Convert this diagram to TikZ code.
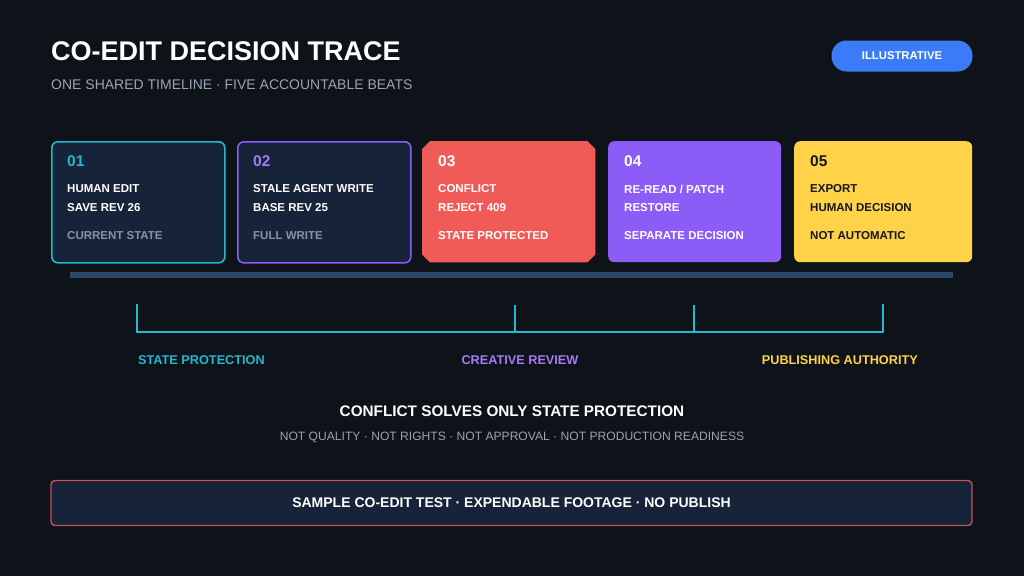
\documentclass[tikz,border=0pt]{standalone}
\usepackage{fontspec}
\setmainfont{Liberation Sans}
\usetikzlibrary{positioning}

\definecolor{bgdark}{HTML}{0E1219}
\definecolor{cardfill}{HTML}{172338}
\definecolor{beatcyan}{HTML}{22B8CF}
\definecolor{beatpurple}{HTML}{8B5CF6}
\definecolor{labelpurple}{HTML}{A77BF3}
\definecolor{beatred}{HTML}{F05B57}
\definecolor{beatyellow}{HTML}{FFD247}
\definecolor{timeline}{HTML}{2B4A68}
\definecolor{subgray}{HTML}{9AA3B5}
\definecolor{dimgray}{HTML}{8A93A6}
\definecolor{pillblue}{HTML}{3B7CF6}
\definecolor{noteborder}{HTML}{C4525A}
\definecolor{inkdark}{HTML}{14161C}

\tikzset{
  card/.style={rectangle, rounded corners=6pt, minimum height=121pt, inner sep=0pt, anchor=north west},
  beatnum/.style={anchor=west, inner sep=0pt, font=\bfseries\fontsize{15.5}{18}\selectfont},
  beatline/.style={anchor=west, inner sep=0pt, font=\bfseries\fontsize{11.5}{13}\selectfont},
  phaselabel/.style={inner sep=0pt, font=\bfseries\fontsize{12.7}{15}\selectfont},
  bracketline/.style={draw=beatcyan, line width=2pt}
}

\begin{document}
\begin{tikzpicture}[x=1pt, y=-1pt]
  \fill [bgdark] (0,0) rectangle (1024,576);
  \useasboundingbox (0,0) rectangle (1024,576);

  % heading
  \node (title) [anchor=west, inner sep=0pt, text=white, font=\bfseries\fontsize{27}{31}\selectfont] at (51,51) {CO-EDIT DECISION TRACE};
  \node (subtitle) [anchor=west, inner sep=0pt, text=subgray, font=\fontsize{14}{17}\selectfont] at (51,85) {ONE SHARED TIMELINE · FIVE ACCOUNTABLE BEATS};
  \node (pill) [rectangle, rounded corners=15pt, fill=pillblue, minimum width=141pt, minimum height=31pt, text=white, font=\bfseries\fontsize{11.3}{13}\selectfont] at (902,56) {ILLUSTRATIVE};

  % beat 01
  \node (card1) [card, draw=beatcyan, line width=1.6pt, fill=cardfill, minimum width=173pt] at (51,141) {};
  \node (num1) [beatnum, text=beatcyan] at (67,161) {01};
  \node (top1) [beatline, text=white] at (67,189) {HUMAN EDIT};
  \node (mid1) [beatline, text=white] at (67,208) {SAVE REV 26};
  \node (low1) [beatline, text=dimgray] at (67,236) {CURRENT STATE};

  % beat 02
  \node (card2) [card, draw=beatpurple, line width=1.6pt, fill=cardfill, minimum width=173pt] at (237,141) {};
  \node (num2) [beatnum, text=labelpurple] at (253,161) {02};
  \node (top2) [beatline, text=white] at (253,189) {STALE AGENT WRITE};
  \node (mid2) [beatline, text=white] at (253,208) {BASE REV 25};
  \node (low2) [beatline, text=dimgray] at (253,236) {FULL WRITE};

  % beat 03, corners cut off
  \node (card3) [rectangle, minimum width=173pt, minimum height=121pt, inner sep=0pt, anchor=north west] at (422,141) {};
  \fill [beatred] ([xshift=8pt]card3.north west) -- ([xshift=-8pt]card3.north east)
    -- ([yshift=-8pt]card3.north east) -- ([yshift=8pt]card3.south east)
    -- ([xshift=-8pt]card3.south east) -- ([xshift=8pt]card3.south west)
    -- ([yshift=8pt]card3.south west) -- ([yshift=-8pt]card3.north west) -- cycle;
  \node (num3) [beatnum, text=white] at (438,161) {03};
  \node (top3) [beatline, text=white] at (438,189) {CONFLICT};
  \node (mid3) [beatline, text=white] at (438,208) {REJECT 409};
  \node (low3) [beatline, text=white] at (438,236) {STATE PROTECTED};

  % beat 04
  \node (card4) [card, fill=beatpurple, minimum width=173pt] at (608,141) {};
  \node (num4) [beatnum, text=white] at (624,161) {04};
  \node (top4) [beatline, text=white] at (624,189) {RE-READ / PATCH};
  \node (mid4) [beatline, text=white] at (624,208) {RESTORE};
  \node (low4) [beatline, text=white] at (624,236) {SEPARATE DECISION};

  % beat 05
  \node (card5) [card, fill=beatyellow, minimum width=178pt] at (794,141) {};
  \node (num5) [beatnum, text=inkdark] at (810,161) {05};
  \node (top5) [beatline, text=inkdark] at (810,189) {EXPORT};
  \node (mid5) [beatline, text=inkdark] at (810,208) {HUMAN DECISION};
  \node (low5) [beatline, text=inkdark] at (810,236) {NOT AUTOMATIC};

  % shared timeline
  \fill [timeline] (70,272) rectangle (953,278);

  % phase bracket
  \coordinate (tickA) at (137,305);
  \coordinate (tickB) at (515,305);
  \coordinate (tickC) at (694,305);
  \coordinate (tickD) at (883,305);
  \draw [bracketline, line cap=rect] (tickA) -- (tickA |- 0,332) -- (tickD |- 0,332) -- (tickD);
  \draw [bracketline] (tickB) -- (tickB |- 0,332);
  \draw [bracketline] (tickC) -- (tickC |- 0,332);

  \node (phase1) [phaselabel, anchor=west, text=beatcyan] at (138,360) {STATE PROTECTION};
  \node (phase2) [phaselabel, text=labelpurple] at (520,360) {CREATIVE REVIEW};
  \node (phase3) [phaselabel, anchor=east, text=beatyellow] at (918,360) {PUBLISHING AUTHORITY};

  % verdict
  \node (verdict) [inner sep=0pt, text=white, font=\bfseries\fontsize{15.3}{18}\selectfont] at (512,411) {CONFLICT SOLVES ONLY STATE PROTECTION};
  \node (caveats) [inner sep=0pt, text=subgray, font=\fontsize{12.1}{14}\selectfont] at (512,437) {NOT QUALITY · NOT RIGHTS · NOT APPROVAL · NOT PRODUCTION READINESS};

  % footer note
  \node (note) [rectangle, rounded corners=4pt, draw=noteborder, line width=1.4pt, fill=cardfill, minimum width=921pt, minimum height=45pt, text=white, font=\bfseries\fontsize{14}{16}\selectfont] at (511.5,503) {SAMPLE CO-EDIT TEST · EXPENDABLE FOOTAGE · NO PUBLISH};
\end{tikzpicture}
\end{document}
